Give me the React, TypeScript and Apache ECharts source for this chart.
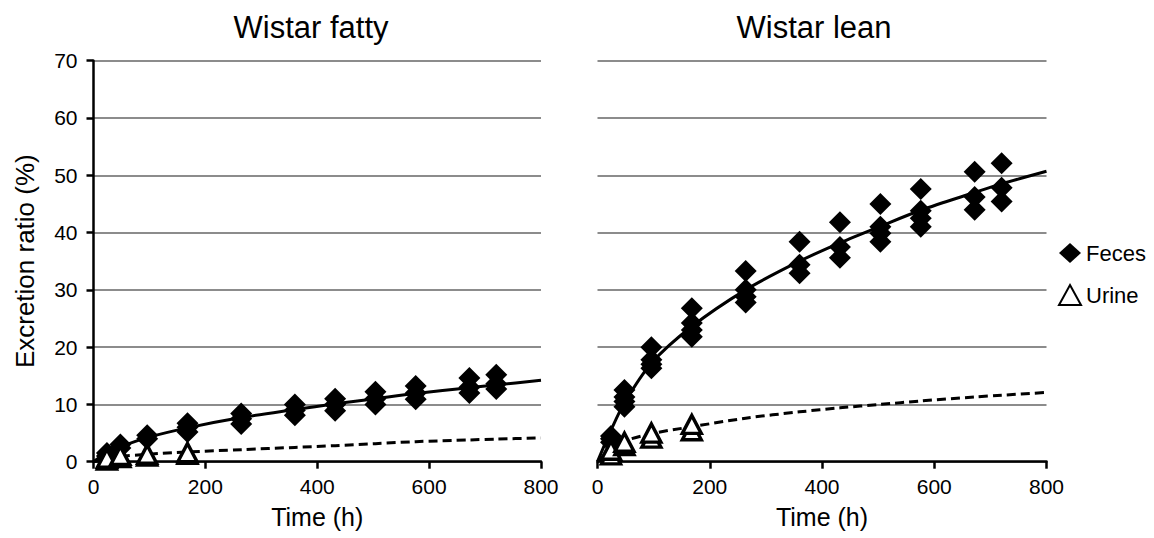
import React, { useEffect, useRef } from "react";
import * as echarts from "echarts";

// Sampling times (h)
const times = [24, 48, 96, 168, 264, 360, 432, 504, 576, 672, 720];
const urineTimes = [24, 48, 96, 168];

// Wistar fatty – individual values (%)
const fattyFeces: number[][] = [
  [1.0, 1.5],
  [2.4, 3.0],
  [4.0, 4.6],
  [5.2, 6.0, 6.7],
  [6.6, 7.5, 8.4],
  [8.1, 9.0, 10.0],
  [8.9, 10.0, 11.0],
  [10.0, 11.0, 12.2],
  [10.9, 12.0, 13.2],
  [12.0, 13.0, 14.6],
  [12.7, 13.6, 15.2],
];
const fattyUrine: number[][] = [
  [0.3, 0.6],
  [0.7, 1.1],
  [1.0, 1.3],
  [1.3, 1.6],
];

// Wistar lean – individual values (%)
const leanFeces: number[][] = [
  [3.4, 4.0, 4.5],
  [9.6, 10.5, 11.3, 12.5],
  [16.3, 17.0, 17.8, 20.0],
  [21.8, 23.0, 24.2, 26.8],
  [27.8, 28.8, 30.0, 33.3],
  [32.9, 34.4, 38.4],
  [35.6, 37.5, 41.8],
  [38.4, 39.9, 41.0, 45.0],
  [41.0, 42.5, 43.8, 47.6],
  [44.0, 46.2, 50.6],
  [45.4, 47.8, 52.1],
];
const leanUrine: number[][] = [
  [1.2, 2.0],
  [2.8, 3.4],
  [4.1, 5.0],
  [5.4, 6.5],
];

// Fitted curves
const fitTimes = [0, 24, 48, 96, 168, 264, 360, 432, 504, 576, 672, 720, 800];
const fattyFecesFit = [0, 1.6, 2.6, 4.2, 5.9, 7.7, 9.1, 10.1, 11.0, 11.9, 12.9, 13.4, 14.2];
const fattyUrineFit = [0, 0.5, 0.9, 1.3, 1.7, 2.1, 2.5, 2.8, 3.15, 3.5, 3.8, 3.95, 4.15];
const leanFecesFit = [0, 5.5, 10.3, 17.2, 23.6, 30.0, 35.0, 38.2, 41.1, 43.9, 47.0, 48.5, 50.7];
const leanUrineFit = [0, 2.3, 3.6, 4.9, 6.1, 7.6, 8.7, 9.4, 10.0, 10.6, 11.3, 11.6, 12.1];

const panelTitles = ["Wistar fatty", "Wistar lean"];
const xName = "Time (h)";
const yName = "Excretion ratio (%)";

const FONT = '"Liberation Sans", Arial, Helvetica, sans-serif';

const toPoints = (ts: number[], vals: number[][]) =>
  ts.flatMap((t, i) => vals[i].map((v) => [t, v]));
const toLine = (ts: number[], vals: number[]) => ts.map((t, i) => [t, vals[i]]);

export default function App() {
  const ref = useRef<HTMLDivElement>(null);

  useEffect(() => {
    if (!ref.current) return;
    const chart = echarts.init(ref.current, undefined, { renderer: "svg" });

    const grids = [
      { left: 93.5, top: 60.7, width: 447.5, height: 401 },
      { left: 597.5, top: 60.7, width: 449, height: 401 },
    ];

    const xAxis = [0, 1].map((gi) => ({
      gridIndex: gi,
      type: "value",
      min: 0,
      max: 800,
      interval: 200,
      axisLine: { show: true, onZero: false, lineStyle: { color: "#000", width: 2.5 } },
      axisTick: { show: true, inside: false, length: 7, lineStyle: { color: "#000", width: 2.5 } },
      axisLabel: { fontSize: 21, color: "#000", fontFamily: FONT, margin: 14 },
      splitLine: { show: false },
      name: xName,
      nameLocation: "middle",
      nameGap: 43,
      nameTextStyle: { fontSize: 25, color: "#000", fontFamily: FONT },
    }));

    const yAxis = [
      {
        gridIndex: 0,
        type: "value",
        min: 0,
        max: 70,
        interval: 10,
        axisLine: { show: true, lineStyle: { color: "#000", width: 2.5 } },
        axisTick: { show: true, length: 7, lineStyle: { color: "#000", width: 2.5 } },
        axisLabel: { fontSize: 21, color: "#000", fontFamily: FONT, margin: 16 },
        splitLine: { show: true, lineStyle: { color: "#8c8c8c", width: 2 } },
        name: yName,
        nameLocation: "middle",
        nameGap: 56,
        nameTextStyle: { fontSize: 26, color: "#000", fontFamily: FONT },
      },
      {
        gridIndex: 1,
        type: "value",
        min: 0,
        max: 70,
        interval: 10,
        axisLine: { show: false },
        axisTick: { show: false },
        axisLabel: { show: false },
        splitLine: { show: true, lineStyle: { color: "#8c8c8c", width: 2 } },
      },
    ];

    const lineSeries = (name: string, idx: number, data: number[][], dashed: boolean) => ({
      name,
      type: "line",
      xAxisIndex: idx,
      yAxisIndex: idx,
      data,
      smooth: 0.3,
      showSymbol: false,
      symbol: "none",
      lineStyle: { color: "#000", width: 3, type: dashed ? [9, 5] : "solid" },
      z: 2,
    });

    const fecesSeries = (idx: number, data: number[][]) => ({
      name: "Feces",
      type: "scatter",
      xAxisIndex: idx,
      yAxisIndex: idx,
      data,
      symbol: "diamond",
      symbolSize: [22, 22],
      itemStyle: { color: "#000", opacity: 1 },
      clip: false,
      z: 3,
    });

    const urineSeries = (idx: number, data: number[][]) => ({
      name: "Urine",
      type: "scatter",
      xAxisIndex: idx,
      yAxisIndex: idx,
      data,
      symbol: "triangle",
      symbolSize: [19, 18],
      itemStyle: { color: "#fff", borderColor: "#000", borderWidth: 3.4, opacity: 1 },
      clip: false,
      z: 4,
    });

    const titleCenters = [311, 814];

    chart.setOption({
      animation: false,
      backgroundColor: "#fff",
      textStyle: { fontFamily: FONT },
      grid: grids,
      xAxis,
      yAxis,
      legend: {
        data: [
          { name: "Feces", icon: "diamond" },
          { name: "Urine", icon: "triangle" },
        ],
        orient: "vertical",
        left: 1053,
        top: 237,
        itemWidth: 22,
        itemHeight: 20,
        itemGap: 20,
        selectedMode: false,
        textStyle: { fontSize: 22, color: "#000", fontFamily: FONT },
      },
      graphic: panelTitles.map((t, i) => ({
        type: "text",
        x: titleCenters[i],
        y: 27,
        style: {
          text: t,
          fontSize: 31,
          fontFamily: FONT,
          fill: "#000",
          align: "center",
          verticalAlign: "middle",
          textAlign: "center",
          textVerticalAlign: "middle",
        },
      })),
      series: [
        lineSeries("Feces fit (fatty)", 0, toLine(fitTimes, fattyFecesFit), false),
        lineSeries("Urine fit (fatty)", 0, toLine(fitTimes, fattyUrineFit), true),
        lineSeries("Feces fit (lean)", 1, toLine(fitTimes, leanFecesFit), false),
        lineSeries("Urine fit (lean)", 1, toLine(fitTimes, leanUrineFit), true),
        fecesSeries(0, toPoints(times, fattyFeces)),
        fecesSeries(1, toPoints(times, leanFeces)),
        urineSeries(0, toPoints(urineTimes, fattyUrine)),
        urineSeries(1, toPoints(urineTimes, leanUrine)),
      ],
    });

    return () => chart.dispose();
  }, []);

  return (
    <div
      ref={ref}
      style={{ position: "fixed", left: 0, top: 0, width: 1154, height: 538, background: "#fff" }}
    />
  );
}
